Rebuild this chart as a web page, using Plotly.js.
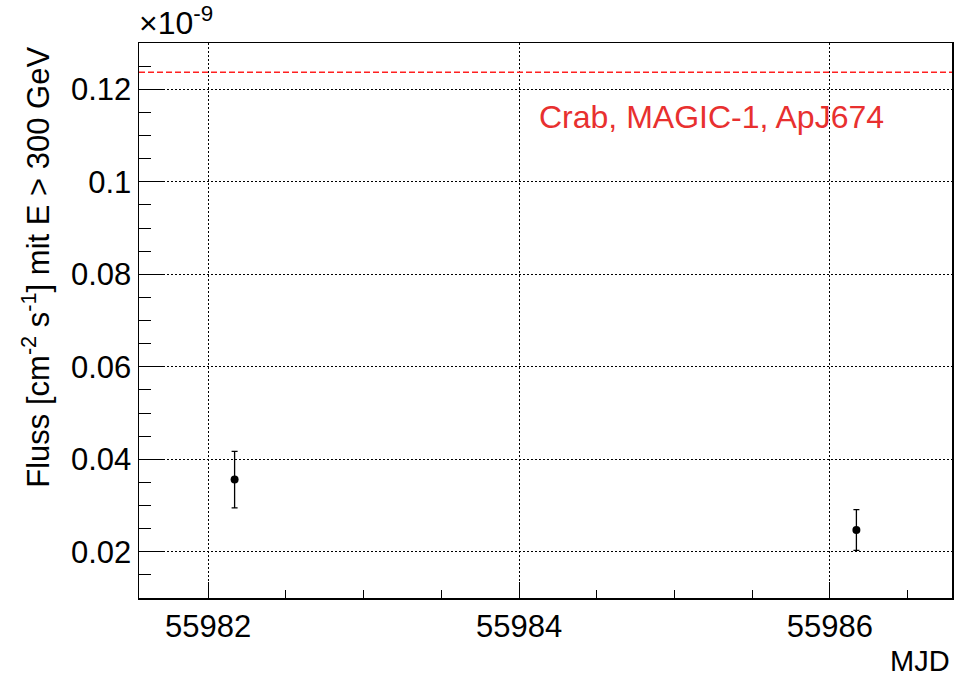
<!DOCTYPE html>
<html>
<head>
<meta charset="utf-8">
<script src="https://cdn.plot.ly/plotly-3.0.1.min.js"></script>
<style>html,body{margin:0;padding:0;background:#fff;}#chart{width:955px;height:682px;}</style>
</head>
<body>
<div id="chart"></div>
<script>
// Flux values in units of 1e-9 cm^-2 s^-1
const mjd = [55982.17, 55986.17];
const flux = [0.0356, 0.0247];
const fluxErr = [0.0061, 0.0044];
const crabFlux = 0.1237;
const crabLabel = "Crab, MAGIC-1, ApJ674";
const xTicks = [55982, 55984, 55986];
const yTicks = [0.02, 0.04, 0.06, 0.08, 0.1, 0.12];

const font = "Liberation Sans, Arial, Helvetica, sans-serif";

const data = [{
  x: mjd, y: flux, type: "scatter", mode: "markers",
  marker: {color: "#000", size: 8},
  error_y: {type: "data", array: fluxErr, visible: true, color: "#000", thickness: 1.3, width: 3},
  showlegend: false, hoverinfo: "none"
}];

const layout = {
  width: 955, height: 682,
  margin: {l: 139, r: 3, t: 43, b: 84},
  paper_bgcolor: "#fff", plot_bgcolor: "#fff",
  font: {family: font, color: "#000"},
  xaxis: {
    range: [55981.555, 55986.785],
    tickvals: xTicks, ticktext: xTicks.map(String),
    ticks: "inside", ticklen: 16, tickwidth: 1, tickcolor: "#000",
    minor: {dtick: 0.5, tick0: 55982, ticks: "inside", ticklen: 8, tickcolor: "#000", showgrid: false},
    showgrid: true, gridcolor: "#000", gridwidth: 1, griddash: "2px,2px",
    showline: true, linecolor: "#000", linewidth: 1.5, mirror: true,
    zeroline: false,
    tickfont: {size: 31, family: font, color: "#000"}
  },
  yaxis: {
    range: [0.01, 0.13],
    tickvals: yTicks, ticktext: yTicks.map(String),
    ticks: "inside", ticklen: 24, tickwidth: 1, tickcolor: "#000",
    minor: {dtick: 0.005, tick0: 0, ticks: "inside", ticklen: 12, tickcolor: "#000", showgrid: false},
    showgrid: true, gridcolor: "#000", gridwidth: 1, griddash: "2px,2px",
    showline: true, linecolor: "#000", linewidth: 1.5, mirror: true,
    zeroline: false,
    tickfont: {size: 31, family: font, color: "#000"}
  },
  shapes: [{
    type: "line", xref: "paper", yref: "y", x0: 0, x1: 1, y0: crabFlux, y1: crabFlux,
    line: {color: "#ff2020", width: 1.5, dash: "6px,3px"}
  }],
  annotations: [
    {text: crabLabel, xref: "x", yref: "y", x: 55986.36, y: 0.1139, xanchor: "right", yanchor: "middle",
     showarrow: false, font: {size: 32, family: font, color: "#e8302f"}},
    {text: "×10<sup>-9</sup>", xref: "paper", yref: "paper", x: -0.002, y: 1, xanchor: "left", yanchor: "bottom",
     showarrow: false, font: {size: 32, family: font, color: "#000"}},
    {text: "MJD", xref: "paper", yref: "paper", x: 1, y: -0.146, xanchor: "right", yanchor: "bottom",
     showarrow: false, font: {size: 29, family: font, color: "#000"}},
    {text: "Fluss [cm<sup>-2</sup> s<sup>-1</sup>] mit E &gt; 300 GeV", xref: "paper", yref: "paper",
     x: -0.126, y: 0.997, xanchor: "center", yanchor: "top", textangle: -90,
     showarrow: false, font: {size: 31, family: font, color: "#000"}}
  ]
};

Plotly.newPlot("chart", data, layout, {displayModeBar: false, staticPlot: true});
</script>
</body>
</html>
